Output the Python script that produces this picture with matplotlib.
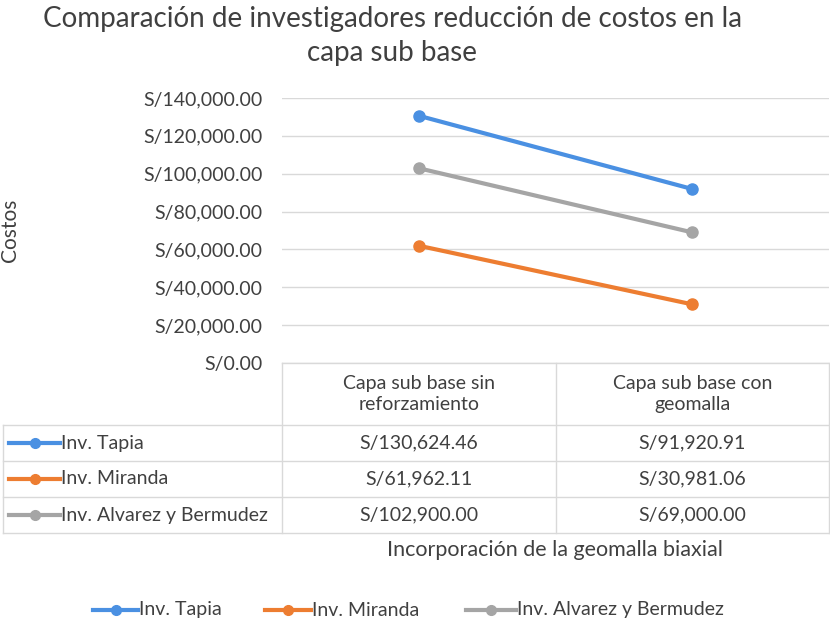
import matplotlib
matplotlib.use("Agg")
import matplotlib.pyplot as plt
from matplotlib.lines import Line2D

plt.rcParams['font.family'] = ['Lato', 'DejaVu Sans']

# data
categorias = ["Capa sub base sin\nreforzamiento", "Capa sub base con\ngeomalla"]
series = ["Inv. Tapia", "Inv. Miranda", "Inv. Alvarez y Bermudez"]
tapia = [130624.46, 91920.91]
miranda = [61962.11, 30981.06]
alvarez = [102900.00, 69000.00]
valores = [tapia, miranda, alvarez]
colores = ["#4A90E2", "#ED7D31", "#A5A5A5"]
yticks = [0, 20000, 40000, 60000, 80000, 100000, 120000, 140000]

W, H = 830, 622
fig = plt.figure(figsize=(W / 100, H / 100), dpi=100)

# plot area in pixels
x0, x1, y_top, y_bot = 282, 829, 98, 363
ax = fig.add_axes([x0 / W, 1 - y_bot / H, (x1 - x0) / W, (y_bot - y_top) / H])

xs = [0, 1]
for vals, c in zip(valores, colores):
    ax.plot(xs, vals, color=c, lw=3, marker="o", ms=8, zorder=3)

ax.set_xlim(-0.5, 1.5)
ax.set_ylim(0, 140000)
ax.set_yticks(yticks)
ax.set_yticklabels(["S/{:,.2f}".format(v) for v in yticks], fontsize=14, color="#404040")
ax.tick_params(axis="y", length=0, pad=14)
ax.set_xticks([])
ax.grid(axis="y", color="#D9D9D9", lw=1)
ax.set_axisbelow(True)
for s in ax.spines.values():
    s.set_visible(False)

# data table drawn in figure pixels
def fx(px):
    return px / W

def fy(py):
    return 1 - py / H

lc = "#D9D9D9"
tc = "#404040"
fs = 14
col_x = [3, 282, 556, 829]
row_y = [363, 425, 461, 497, 533]

def hline(y, xa, xb):
    fig.add_artist(Line2D([fx(xa), fx(xb)], [fy(y), fy(y)], color=lc, lw=1))

def vline(x, ya, yb):
    fig.add_artist(Line2D([fx(x), fx(x)], [fy(ya), fy(yb)], color=lc, lw=1))

hline(row_y[0], col_x[1], col_x[3])
for y in row_y[1:]:
    hline(y, col_x[0], col_x[3])
vline(col_x[0], row_y[1], row_y[-1])
for x in col_x[1:]:
    vline(x, row_y[0], row_y[-1])

for j, cat in enumerate(categorias):
    cx = (col_x[j + 1] + col_x[j + 2]) / 2
    fig.text(fx(cx), fy((row_y[0] + row_y[1]) / 2), cat, ha="center", va="center",
             fontsize=fs, color=tc, linespacing=1.35)

def swatch(xa, xb, y, c):
    fig.add_artist(Line2D([fx(xa), fx(xb)], [fy(y), fy(y)], color=c, lw=3))
    fig.add_artist(Line2D([fx((xa + xb) / 2)], [fy(y)], color=c, marker="o", ms=7))

for i, (name, vals, c) in enumerate(zip(series, valores, colores)):
    cy = (row_y[i + 1] + row_y[i + 2]) / 2
    swatch(9, 60, cy, c)
    fig.text(fx(61), fy(cy), name, ha="left", va="center", fontsize=fs, color=tc)
    for j, v in enumerate(vals):
        cx = (col_x[j + 1] + col_x[j + 2]) / 2
        fig.text(fx(cx), fy(cy), "S/{:,.2f}".format(v), ha="center", va="center",
                 fontsize=fs, color=tc)

# titles and axis labels
fig.text(fx(392), fy(36), "Comparación de investigadores reducción de costos en la\ncapa sub base",
         ha="center", va="center", fontsize=20, color="#404040", linespacing=1.35)
fig.text(fx(10), fy(230), "Costos", rotation=90, ha="center", va="center", fontsize=15, color=tc)
fig.text(fx(555), fy(550), "Incorporación de la geomalla biaxial", ha="center", va="center",
         fontsize=15.5, color=tc)

# legend
leg_x = [(93, 138), (265, 311), (466, 516)]
for (xa, xb), name, c in zip(leg_x, series, colores):
    swatch(xa, xb, 610, c)
    fig.text(fx(xb + 1), fy(610), name, ha="left", va="center", fontsize=fs, color=tc)

fig.savefig("out.png", dpi=100)
